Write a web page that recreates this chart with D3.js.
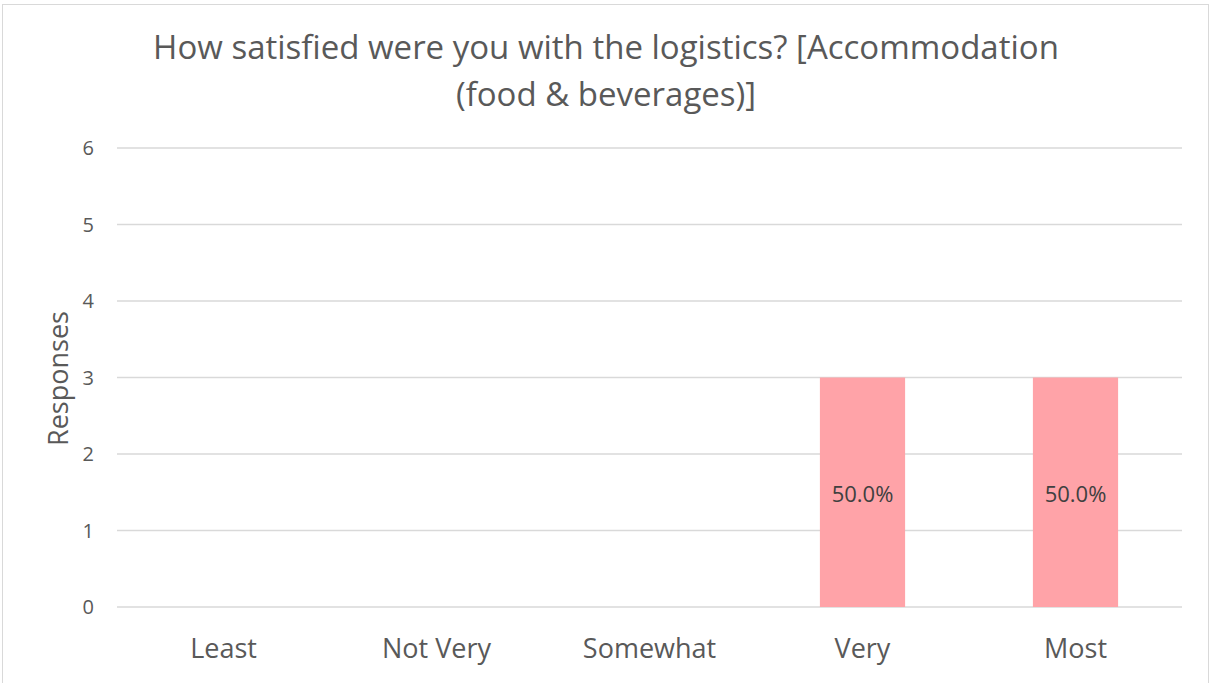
<!DOCTYPE html>
<html>
<head>
<meta charset="utf-8">
<script src="https://cdn.jsdelivr.net/npm/d3@7"></script>
<style>
  body { margin: 0; background: #fff; }
  svg text { font-family: 'Open Sans', 'Noto Sans', sans-serif; }
</style>
</head>
<body>
<svg id="chart" width="1211" height="683"></svg>
<script>
const categories = ['Least', 'Not Very', 'Somewhat', 'Very', 'Most'];
const responses = [0, 0, 0, 3, 3];
const percentLabels = ['', '', '', '50.0%', '50.0%'];
const yTicks = [0, 1, 2, 3, 4, 5, 6];
const titleLines = ['How satisfied were you with the logistics? [Accommodation', '(food & beverages)]'];

let svg = d3.select('#chart');

// chart frame
svg.append('rect')
  .attr('x', 2.5).attr('y', 4.5)
  .attr('width', 1206).attr('height', 690)
  .attr('fill', '#fff')
  .attr('stroke', '#d9d9d9');

const margin = {left: 117, right: 1182, top: 148, bottom: 607};

let x = d3.scaleBand()
  .domain(categories)
  .range([margin.left, margin.right])
  .paddingInner(0.6)
  .paddingOuter(0.3);

let y = d3.scaleLinear()
  .domain([0, 6])
  .range([margin.bottom, margin.top]);

// gridlines
svg.append('g')
  .selectAll('line')
  .data(yTicks)
  .enter()
  .append('line')
  .attr('x1', margin.left)
  .attr('x2', margin.right)
  .attr('y1', (d) => y(d))
  .attr('y2', (d) => y(d))
  .attr('stroke', '#d9d9d9')
  .attr('stroke-width', 1.3);

// y tick labels
svg.append('g')
  .selectAll('text')
  .data(yTicks)
  .enter()
  .append('text')
  .attr('x', 94)
  .attr('y', (d) => y(d) + 7)
  .attr('text-anchor', 'end')
  .attr('font-size', 20)
  .attr('fill', '#595959')
  .text((d) => d);

// bars
svg.append('g')
  .selectAll('rect')
  .data(responses)
  .enter()
  .append('rect')
  .attr('x', (d, i) => x(categories[i]))
  .attr('y', (d) => y(d))
  .attr('width', x.bandwidth())
  .attr('height', (d) => y(0) - y(d))
  .attr('fill', '#ffa3a8');

// data labels
svg.append('g')
  .selectAll('text')
  .data(categories.map((c, i) => ({cat: c, value: responses[i], label: percentLabels[i]})))
  .enter()
  .filter((d) => d.label !== '')
  .append('text')
  .attr('x', (d) => x(d.cat) + x.bandwidth() / 2)
  .attr('y', (d) => y(d.value / 2) + 10)
  .attr('text-anchor', 'middle')
  .attr('font-size', 22)
  .attr('fill', '#404040')
  .text((d) => d.label);

// category labels
svg.append('g')
  .selectAll('text')
  .data(categories)
  .enter()
  .append('text')
  .attr('x', (d) => x(d) + x.bandwidth() / 2)
  .attr('y', 658)
  .attr('text-anchor', 'middle')
  .attr('font-size', 27)
  .attr('fill', '#595959')
  .text((d) => d);

// axis title
svg.append('text')
  .attr('transform', 'translate(68,' + (y(3) + 1) + ') rotate(-90)')
  .attr('text-anchor', 'middle')
  .attr('font-size', 27)
  .attr('fill', '#595959')
  .text('Responses');

// title
svg.append('g')
  .selectAll('text')
  .data(titleLines)
  .enter()
  .append('text')
  .attr('x', 606)
  .attr('y', (d, i) => 59 + i * 47)
  .attr('text-anchor', 'middle')
  .attr('font-size', 33)
  .attr('fill', '#595959')
  .text((d) => d);
</script>
</body>
</html>
